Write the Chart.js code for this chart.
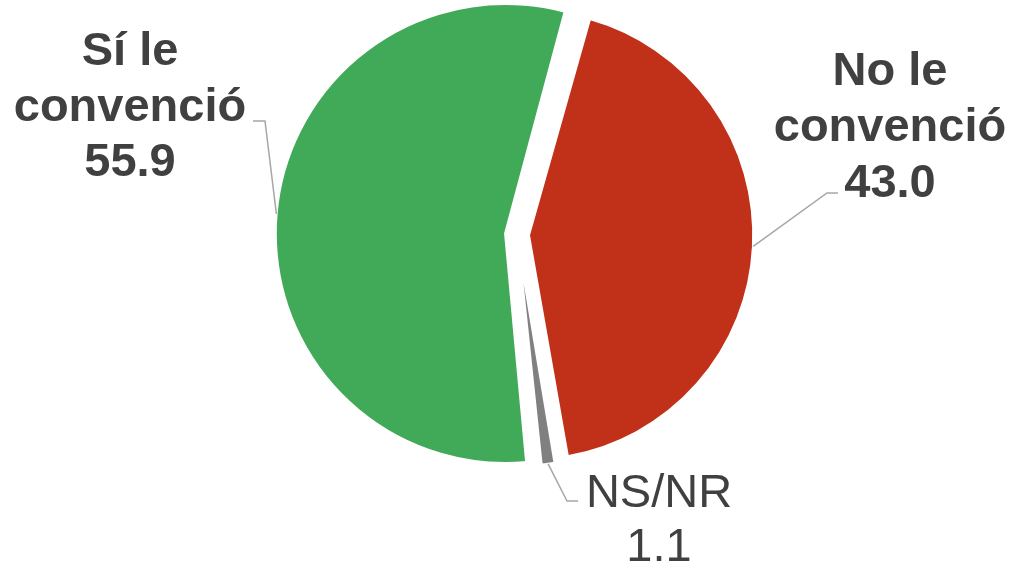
<!DOCTYPE html>
<html>
<head>
<meta charset="utf-8">
<script src="https://cdn.jsdelivr.net/npm/chart.js@4.4.1/dist/chart.umd.min.js"></script>
<style>
  body { margin: 0; background: #fff; }
  #wrap { width: 1009px; height: 566px; }
</style>
</head>
<body>
<div id="wrap"><canvas id="pieChart"></canvas></div>
<script>
const categories = ['No le convenció', 'NS/NR', 'Sí le convenció'];
const shares = [43.0, 1.1, 55.9];
const labelLines = [['No le', 'convenció'], ['NS/NR'], ['Sí le', 'convenció']];
const sliceColors = ['#C1311A', '#808080', '#41AA58'];
const sliceOffsets = [47, 28, 47];

// label placement: centre x, first baseline, leader elbow, end of the short flat bit
const labelSpots = [
    { x: 890, y: 85, step: 56, bold: true, elbow: [827, 193], end: 838 },
    { x: 659, y: 507, step: 54, bold: false, elbow: [567, 501], end: 578 },
    { x: 130, y: 65, step: 55.5, bold: true, elbow: [265, 121], end: 253 }
];

const calloutLabels = {
    id: 'calloutLabels',
    afterDatasetsDraw(chart) {
        const ctx = chart.ctx;
        const meta = chart.getDatasetMeta(0);

        meta.data.forEach((arc, i) => {
            const p = arc.getProps(['x', 'y', 'startAngle', 'endAngle', 'outerRadius', 'circumference'], true);
            const off = (arc.options.offset || 0) / 4;
            const fix = 1 - Math.sin(Math.min(Math.PI, p.circumference));
            const mid = (p.startAngle + p.endAngle) / 2;
            const r = p.outerRadius + off + off * fix;
            const ax = p.x + Math.cos(mid) * r;
            const ay = p.y + Math.sin(mid) * r;
            const spot = labelSpots[i];

            ctx.save();
            ctx.strokeStyle = '#A6A6A6';
            ctx.lineWidth = 1.5;
            ctx.beginPath();
            ctx.moveTo(ax, ay);
            ctx.lineTo(spot.elbow[0], spot.elbow[1]);
            ctx.lineTo(spot.end, spot.elbow[1]);
            ctx.stroke();

            ctx.fillStyle = '#404040';
            ctx.textAlign = 'center';
            ctx.textBaseline = 'alphabetic';
            ctx.font = (spot.bold ? 'bold ' : '') + '47px "Liberation Sans", Arial, sans-serif';
            let lines = labelLines[i].concat([shares[i].toFixed(1)]);
            lines.forEach((txt, j) => {
                ctx.fillText(txt, spot.x, spot.y + j * spot.step);
            });
            ctx.restore();
        });
    }
};

const ctx = document.getElementById('pieChart');

let pieChart = new Chart(ctx, {
    type: 'pie',
    data: {
        labels: categories,
        datasets: [{
            data: shares,
            backgroundColor: sliceColors,
            borderColor: '#ffffff',
            borderWidth: 2.5,
            offset: sliceOffsets
        }]
    },
    options: {
        responsive: true,
        maintainAspectRatio: false,
        animation: false,
        rotation: 15.5,
        radius: 218,
        layout: {
            padding: { left: 25, right: 0, top: 0, bottom: 97 }
        },
        plugins: {
            legend: { display: false },
            tooltip: { enabled: false }
        }
    },
    plugins: [calloutLabels]
});
</script>
</body>
</html>
